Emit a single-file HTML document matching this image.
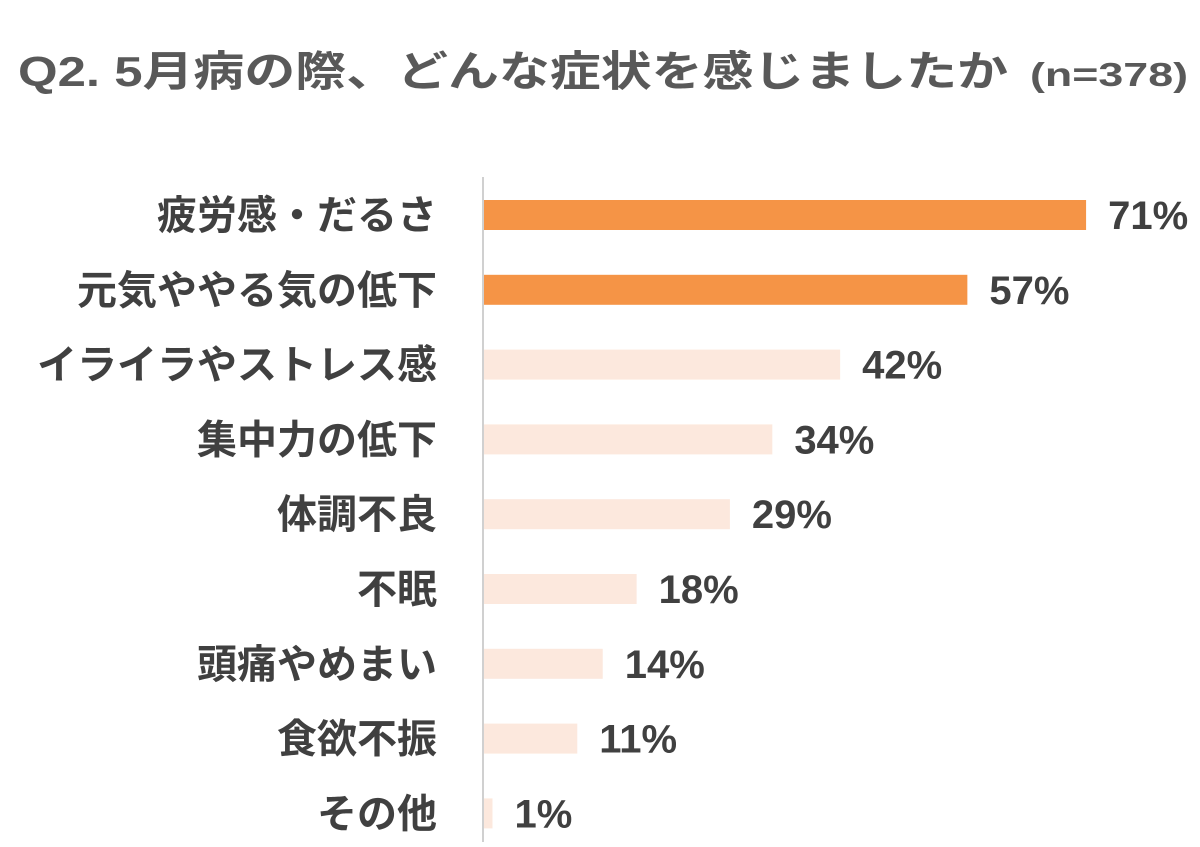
<!DOCTYPE html>
<html><head><meta charset="utf-8">
<style>
body{margin:0;background:#fff;width:1200px;height:842px;overflow:hidden;font-family:"Liberation Sans","Noto Sans CJK JP",sans-serif;}
</style></head><body>
<svg id="chart" width="1200" height="842" xmlns="http://www.w3.org/2000/svg" style="font-family:'Liberation Sans','Noto Sans CJK JP',sans-serif">
<text x="18" y="86" font-size="42" font-weight="bold" fill="#595959" textLength="990" lengthAdjust="spacingAndGlyphs">Q2. 5月病の際、どんな症状を感じましたか</text>
<text x="1030" y="86" font-size="33" font-weight="bold" fill="#595959" textLength="158" lengthAdjust="spacingAndGlyphs">(n=378)</text>
<line x1="483" y1="177" x2="483" y2="842" stroke="#d0d0d0" stroke-width="2"/>
<g id="bars"></g>
</svg>
<script>
const categories=["疲労感・だるさ","元気ややる気の低下","イライラやストレス感","集中力の低下","体調不良","不眠","頭痛やめまい","食欲不振","その他"];
const values=[71,57,42,34,29,18,14,11,1];
const highlight=[true,true,false,false,false,false,false,false,false];
const x0=484, pxPer=8.48, top0=200, step=74.8, bh=30;
const xs=v=>x0+v*pxPer;
const ys=i=>top0+i*step;
const g=document.getElementById('bars');
const NS="http://www.w3.org/2000/svg";
categories.forEach((c,i)=>{
  const y=ys(i);
  const r=document.createElementNS(NS,'rect');
  
  
  r.setAttribute('x',x0);r.setAttribute('y',y);
  r.setAttribute('width',xs(values[i])-x0);r.setAttribute('height',bh);
  r.setAttribute('fill',highlight[i]?'#F59446':'#FCE8DD');
  g.appendChild(r);
  const l=document.createElementNS(NS,'text');
  
  
  l.setAttribute('x',437);l.setAttribute('y',y+bh/2+14);
  l.setAttribute('text-anchor','end');l.setAttribute('font-size','40');
  l.setAttribute('font-weight','bold');
  l.setAttribute('fill','#404040');
  l.textContent=c;g.appendChild(l);
  const t=document.createElementNS(NS,'text');
  
  
  t.setAttribute('x',xs(values[i])+22);t.setAttribute('y',y+bh/2+14);
  t.setAttribute('font-size','40');t.setAttribute('font-weight','bold');
  t.setAttribute('fill','#404040');
  t.textContent=values[i]+'%';g.appendChild(t);
});
</script>
</body></html>
